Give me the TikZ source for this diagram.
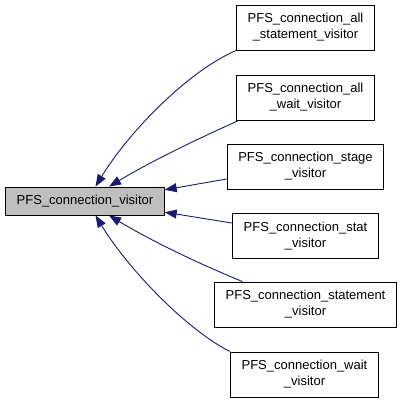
\documentclass[tikz,border=0pt]{standalone}
\usepackage{fontspec}
\setmainfont{Liberation Sans}
\usetikzlibrary{arrows.meta}
\definecolor{edgeblue}{HTML}{191970}
\definecolor{basegray}{HTML}{BFBFBF}

\begin{document}
\begin{tikzpicture}[x=1pt, y=-1pt,
    cls/.style={draw=black, line width=0.9pt, fill=white, align=center,
      inner xsep=11pt, inner ysep=0pt, minimum height=45pt,
      font=\fontsize{13}{16}\selectfont},
    base/.style={cls, fill=basegray, minimum height=28pt},
    inherit/.style={draw=edgeblue, line width=0.9pt,
      -{Triangle[length=12pt, width=9pt]}}]
    \useasboundingbox (0, 0) rectangle (403, 403);

    \node[base] (visitor) at (85, 201) {PFS\_connection\_visitor};

    \node[cls] (allstmt) at (305.5, 27.5) {PFS\_connection\_all\\\_statement\_visitor};
    \node[cls] (allwait) at (305.5, 97.5) {PFS\_connection\_all\\\_wait\_visitor};
    \node[cls] (stage) at (305.5, 166.5) {PFS\_connection\_stage\\\_visitor};
    \node[cls] (stat) at (305.5, 236) {PFS\_connection\_stat\\\_visitor};
    \node[cls] (stmt) at (305.5, 304.5) {PFS\_connection\_statement\\\_visitor};
    \node[cls] (wait) at (304.5, 374.5) {PFS\_connection\_wait\\\_visitor};

    \draw[inherit] (allstmt.south west) .. controls (190, 70) and (130, 130)
      .. (visitor.54.5);
    \draw[inherit] (allwait.199) .. controls (195, 140) and (150, 162)
      .. (visitor.31.3);
    \draw[inherit] (stage.189) -- (visitor.8.5);
    \draw[inherit] (stat.170.7) -- (visitor.-8.5);
    \draw[inherit] (stmt.160.3) .. controls (195, 262) and (150, 240)
      .. (visitor.-31.3);
    \draw[inherit] (wait.north west) .. controls (190, 332) and (130, 272)
      .. (visitor.-54.5);
\end{tikzpicture}
\end{document}
